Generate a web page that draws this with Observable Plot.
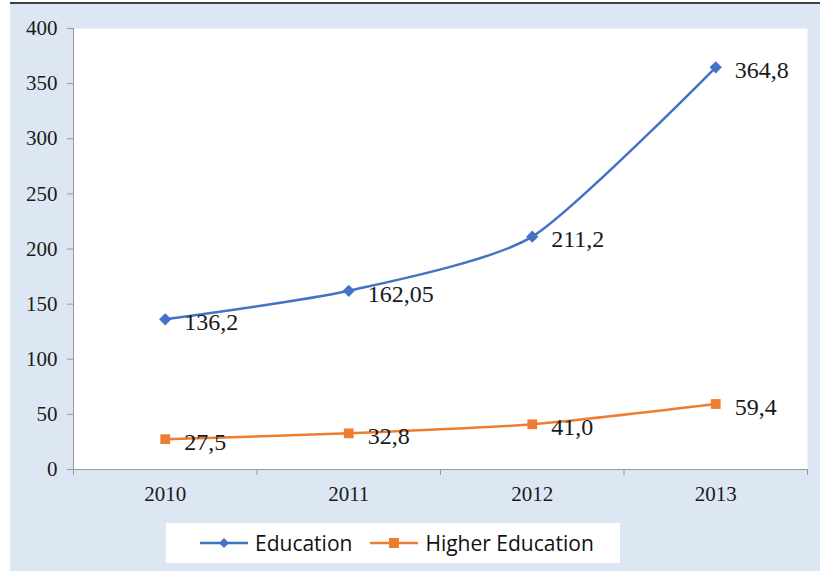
<!DOCTYPE html>
<html>
<head>
<meta charset="utf-8">
<script src="https://cdn.jsdelivr.net/npm/d3@7"></script>
<script src="https://cdn.jsdelivr.net/npm/@observablehq/plot@0.6"></script>
<style>
  html, body { margin: 0; padding: 0; background: #ffffff; }
  #wrap { position: absolute; left: 10px; top: 2px; width: 810px; height: 567px; border-top: 2px solid #404040; background: #dde7f3; overflow: hidden; }
  #chart svg { display: block; }
  #legend { position: absolute; left: 156px; top: 519px; width: 454px; height: 40px; background: #ffffff; display: flex; align-items: center; font-family: "Open Sans", "Noto Sans", sans-serif; font-size: 21px; color: #111; }
  .item { display: flex; align-items: center; margin-left: 34px; }
  .item + .item { margin-left: 18px; }
  .item svg { margin-right: 7px; }
</style>
</head>
<body>
<div id="wrap">
  <div id="chart"></div>
  <div id="legend"></div>
</div>
<script>
const years = ["2010", "2011", "2012", "2013"];
const education = [136.2, 162.05, 211.2, 364.8];
const higherEducation = [27.5, 32.8, 41.0, 59.4];
const educationLabels = ["136,2", "162,05", "211,2", "364,8"];
const higherLabels = ["27,5", "32,8", "41,0", "59,4"];
const yTicks = [0, 50, 100, 150, 200, 250, 300, 350, 400];

const blue = "#4472c4";
const orange = "#ed7d31";

const rows = [];
years.forEach((y, i) => {
  rows.push({i, year: y, series: "Education", value: education[i], label: educationLabels[i]});
});
years.forEach((y, i) => {
  rows.push({i, year: y, series: "Higher Education", value: higherEducation[i], label: higherLabels[i]});
});
const edu = rows.filter(d => d.series === "Education");
const hi = rows.filter(d => d.series === "Higher Education");
const boundaries = d3.range(years.length + 1).map(k => k - 0.5);
const yearIdx = years.map((_, k) => k);

const serif = "'Liberation Serif', 'Times New Roman', serif";
const smooth = d3.curveCardinal.tension(0.35);

const chart = Plot.plot({
  width: 810,
  height: 510,
  marginLeft: 63,
  marginRight: 13,
  marginTop: 24,
  marginBottom: 45,
  style: { background: "transparent", fontFamily: serif, color: "#1a1a1a" },
  x: { type: "linear", domain: [-0.5, years.length - 0.5] },
  y: { domain: [0, 400] },
  marks: [
    Plot.frame({ fill: "white", stroke: null }),
    Plot.axisY({ ticks: yTicks, tickSize: 6, tickFormat: () => "", stroke: "#999", label: null }),
    Plot.axisX({ ticks: boundaries, tickFormat: () => "", tickSize: 6, stroke: "#999", label: null }),
    Plot.text(yTicks, { x: -0.5, y: d => d, text: d => String(d), textAnchor: "end", dx: -16, fontSize: 21, fontFamily: serif, fill: "#1a1a1a" }),
    Plot.text(yearIdx, { x: d => d, y: 0, text: d => years[d], dy: 25, fontSize: 21, fontFamily: serif, fill: "#1a1a1a" }),
    Plot.ruleX([-0.5], { stroke: "#999" }),
    Plot.ruleY([0], { stroke: "#999" }),
    Plot.line(edu, { x: "i", y: "value", stroke: blue, strokeWidth: 2.5, curve: smooth }),
    Plot.line(hi, { x: "i", y: "value", stroke: orange, strokeWidth: 2.5, curve: smooth }),
    Plot.dot(edu, { x: "i", y: "value", symbol: "diamond2", r: 5.5, fill: blue, stroke: null }),
    Plot.dot(hi, { x: "i", y: "value", symbol: "square", r: 5.5, fill: orange, stroke: null }),
    Plot.text(rows, { x: "i", y: "value", text: "label", textAnchor: "start", dx: 19, dy: 3, fontSize: 24, fontFamily: serif, fill: "#1a1a1a" })
  ]
});
document.getElementById("chart").appendChild(chart);

const legend = document.getElementById("legend");
[["Education", blue, "diamond"], ["Higher Education", orange, "square"]].forEach(([name, color, shape]) => {
  const item = document.createElement("div");
  item.className = "item";
  const marker = shape === "diamond"
    ? `<path d="M24,6 L29,11 L24,16 L19,11 Z" fill="${color}"/>`
    : `<rect x="19" y="6" width="10" height="10" fill="${color}"/>`;
  item.innerHTML = `<svg width="48" height="22"><line x1="0" x2="48" y1="11" y2="11" stroke="${color}" stroke-width="2.5"/>${marker}</svg><span>${name}</span>`;
  legend.appendChild(item);
});
</script>
</body>
</html>
